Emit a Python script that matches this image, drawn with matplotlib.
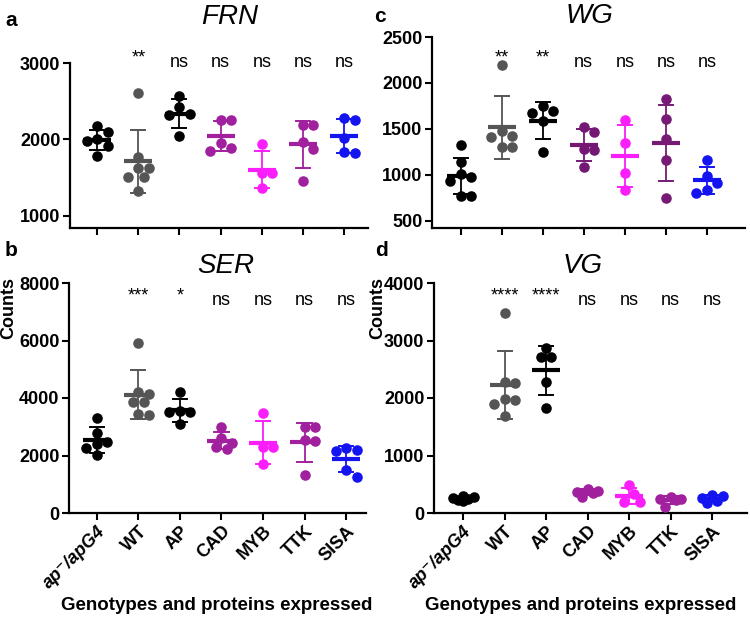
import numpy as np
import matplotlib
matplotlib.use("Agg")
import matplotlib.pyplot as plt

plt.rcParams["font.family"] = ["Liberation Sans", "DejaVu Sans"]

W, H = 750, 617

groups = ["ap\u207b/apG4", "WT", "AP", "CAD", "MYB", "TTK", "SISA"]

# FRN counts per group
frn = [
    [2170, 2100, 2010, 1980, 1910, 1790],
    [2607, 1777, 1625, 1625, 1515, 1515, 1330],
    [2565, 2430, 2330, 2320, 2040],
    [2260, 2250, 1960, 1890, 1850],
    [1940, 1560, 1560, 1360],
    [2195, 2195, 1965, 1870, 1458],
    [2282, 2251, 2022, 1840, 1827],
]
# WG counts per group
wg = [
    [1320, 1140, 1010, 980, 930, 765, 765],
    [2199, 1473, 1418, 1411, 1298, 1298],
    [1745, 1698, 1672, 1582, 1244],
    [1518, 1460, 1279, 1272, 1080],
    [1598, 1351, 1018, 837],
    [1823, 1606, 1388, 1156, 747],
    [1160, 985, 910, 830, 805],
]
# SER counts per group
ser = [
    [3315, 2770, 2480, 2400, 2250, 2030],
    [5930, 4200, 4150, 3870, 3860, 3430, 3400],
    [4200, 3560, 3520, 3500, 3090],
    [3000, 2600, 2450, 2300, 2230],
    [3468, 2310, 2300, 1700],
    [2980, 2980, 2540, 2510, 1320],
    [2270, 2190, 2150, 1500, 1260],
]
# VG counts per group
vg = [
    [290, 270, 255, 240, 225, 210],
    [3480, 2270, 2260, 1980, 1960, 1900, 1690],
    [2870, 2720, 2710, 2280, 1830],
    [420, 390, 370, 350, 280],
    [490, 330, 190, 185],
    [280, 250, 240, 230, 110],
    [320, 290, 260, 210, 180],
]

sig_frn = ["", "**", "ns", "ns", "ns", "ns", "ns"]
sig_wg = ["", "**", "**", "ns", "ns", "ns", "ns"]
sig_ser = ["", "***", "*", "ns", "ns", "ns", "ns"]
sig_vg = ["", "****", "****", "ns", "ns", "ns", "ns"]

col_light = ["#000000", "#555555", "#000000", "#a0209e", "#fa1efa", "#a0209e", "#1414f0"]
col_dark = ["#000000", "#555555", "#000000", "#741874", "#fa1efa", "#761a76", "#1414f0"]


def px_box(x0, y0, x1, y1):
    # pixel box (top-left origin) -> figure fraction [l, b, w, h]
    return [x0 / W, 1 - y1 / H, (x1 - x0) / W, (y1 - y0) / H]


def swarm_offsets(ax, vals, diam):
    # column scatter: spread overlapping points sideways, within a limited width
    vals = np.asarray(vals, dtype=float)
    pts = ax.transData.transform(np.column_stack([np.zeros(len(vals)), vals]))
    ypx = pts[:, 1]
    unit = ax.transData.transform((1, 0))[0] - ax.transData.transform((0, 0))[0]
    placed = []
    offs = np.zeros(len(vals))
    cands = [0, 0.5, -0.5, 1, -1]
    for i in np.argsort(-vals):
        best, best_d = 0, -1
        for k in cands:
            x = k * diam
            d = min([np.hypot(x - px, ypx[i] - py) for px, py in placed] or [1e9])
            if d >= 0.95 * diam:
                best = x
                break
            if d > best_d:
                best, best_d = x, d
        placed.append((best, ypx[i]))
        offs[i] = best
    return offs / unit


def panel(box, data, colors, ylim, yticks, xlim, title, title_xy, sig, sig_y, letter, letter_xy,
          counts=None, show_xlabels=False, xlabel_x=None):
    ax = fig.add_axes(px_box(*box))
    ax.set_xlim(*xlim)
    ax.set_ylim(*ylim)
    for s in ["top", "right"]:
        ax.spines[s].set_visible(False)
    for s in ["left", "bottom"]:
        ax.spines[s].set_linewidth(1.6)
    ax.set_yticks(yticks)
    ax.set_yticklabels([str(t) for t in yticks], fontsize=13, fontweight="bold")
    ax.tick_params(axis="both", direction="out", length=5, width=1.5, pad=2)
    ax.set_xticks(range(len(groups)))
    if show_xlabels:
        labels = ax.set_xticklabels(groups, rotation=45, ha="right", va="top",
                                    rotation_mode="anchor", fontsize=13, fontweight="bold")
        labels[0].set_fontstyle("italic")
    else:
        ax.set_xticklabels([])

    for i, vals in enumerate(data):
        c = colors[i]
        m = np.mean(vals)
        sd = np.std(vals, ddof=1)
        offs = swarm_offsets(ax, vals, 10.5)
        ax.plot([i, i], [m - sd, m + sd], color=c, lw=1.3, zorder=2)
        ax.plot([i - 0.17, i + 0.17], [m + sd, m + sd], color=c, lw=1.4, zorder=2)
        ax.plot([i - 0.17, i + 0.17], [m - sd, m - sd], color=c, lw=1.4, zorder=2)
        ax.plot(i + offs, vals, "o", color=c, markersize=7.6, markeredgewidth=0, zorder=3)
        ax.plot([i - 0.34, i + 0.34], [m, m], color=c, lw=3, solid_capstyle="butt", zorder=4)
        if sig[i]:
            lift = 3 if "*" in sig[i] else 0
            ax.annotate(sig[i], (i, sig_y), xytext=(0, lift), textcoords="offset points",
                        ha="center", va="baseline", fontsize=13, annotation_clip=False)

    fig.text(title_xy[0] / W, 1 - title_xy[1] / H, title, fontsize=20, fontstyle="italic",
             ha="center", va="center")
    fig.text(letter_xy[0] / W, 1 - letter_xy[1] / H, letter, fontsize=15, fontweight="bold",
             ha="center", va="center")
    if counts is not None:
        fig.text(counts[0] / W, 1 - counts[1] / H, "Counts", fontsize=13, fontweight="bold",
                 rotation=90, ha="center", va="center")
    if xlabel_x is not None:
        fig.text(xlabel_x / W, 1 - 605 / H, "Genotypes and proteins expressed", fontsize=13.5,
                 fontweight="bold", ha="center", va="center")
    return ax


fig = plt.figure(figsize=(W / 100, H / 100), dpi=100)

panel((70, 63, 368, 228), frn, col_light, (843, 3000), [1000, 2000, 3000], (-0.66, 6.58),
      "FRN", (230, 17), sig_frn, 2950, "a", (11, 21))
panel((432, 37, 745, 228), wg, col_dark, (420, 2500), [500, 1000, 1500, 2000, 2500], (-0.7, 6.93),
      "WG", (590, 16), sig_wg, 2177, "c", (380, 17))
panel((69, 283, 366, 513), ser, col_light, (0, 8000), [0, 2000, 4000, 6000, 8000], (-0.67, 6.48),
      "SER", (226, 266), sig_ser, 7235, "b", (11, 251), counts=(9, 308), show_xlabels=True,
      xlabel_x=217)
panel((434, 283, 747, 513), vg, col_light, (0, 4000), [0, 1000, 2000, 3000, 4000], (-0.7, 6.84),
      "VG", (583, 266), sig_vg, 3617, "d", (381, 251), counts=(378, 308), show_xlabels=True,
      xlabel_x=581)

fig.savefig("out.png", dpi=100)
